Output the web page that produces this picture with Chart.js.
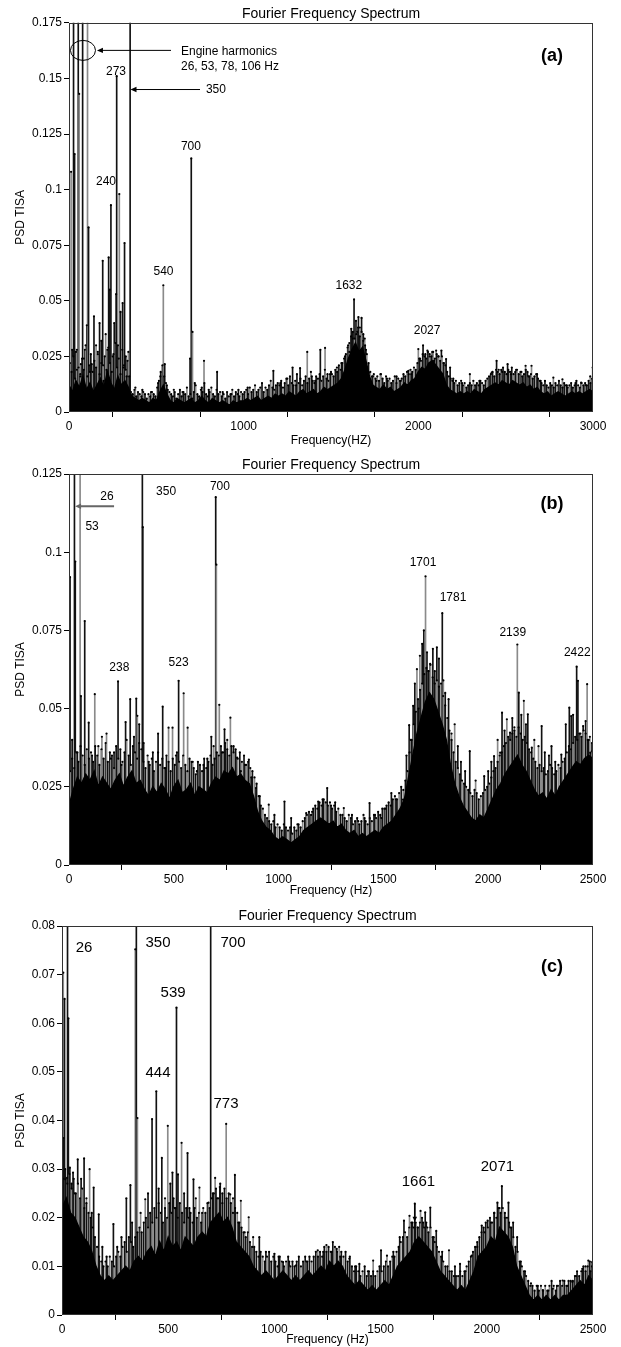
<!DOCTYPE html>
<html>
<head>
<meta charset="utf-8">
<script src="https://cdn.jsdelivr.net/npm/chart.js@4.4.1/dist/chart.umd.min.js"></script>
<style>
  html, body { margin: 0; padding: 0; background: #fff; }
  body { width: 621px; height: 1347px; position: relative; overflow: hidden; }
  canvas { position: absolute; left: 0; }
</style>
</head>
<body>
<canvas id="chartA" width="621" height="448" style="top:0px"></canvas>
<canvas id="chartB" width="621" height="448" style="top:450px"></canvas>
<canvas id="chartC" width="621" height="452" style="top:895px"></canvas>
<script>
// spectrum floor (solid black region), one value every 20 Hz from 0 Hz
const floorStep = 20;
// tops of the dense stems, one value every 10 Hz from 5 Hz
const fuzzStep = 10;
const fuzzStart = 5;

const floorA = [
  0.012, 0.009, 0.014, 0.011, 0.016, 0.010, 0.013, 0.009, 0.012, 0.015, 0.011, 0.018, 0.013, 0.010, 0.016, 0.012, 0.014, 0.011,
  0.007, 0.006, 0.005, 0.006, 0.005, 0.004, 0.006, 0.005,
  0.009, 0.012, 0.008,
  0.005, 0.004, 0.006, 0.005, 0.004, 0.005, 0.006, 0.004, 0.005, 0.007, 0.005, 0.004, 0.006, 0.005, 0.004, 0.005, 0.004, 0.003, 0.005, 0.004, 0.005,
  0.005, 0.006, 0.005, 0.006, 0.007, 0.005, 0.006, 0.007, 0.006, 0.008,
  0.007, 0.008, 0.007, 0.009, 0.008, 0.007, 0.009, 0.010, 0.008, 0.009, 0.010, 0.008, 0.009, 0.011, 0.010,
  0.011, 0.012, 0.013, 0.015,
  0.019, 0.024, 0.028, 0.031, 0.027, 0.029, 0.023, 0.016,
  0.012, 0.011, 0.010, 0.012, 0.010, 0.011, 0.009, 0.010,
  0.011, 0.013, 0.012, 0.014, 0.015,
  0.018, 0.020, 0.019, 0.022, 0.023, 0.021, 0.019, 0.017,
  0.012, 0.010, 0.009, 0.008, 0.009, 0.008, 0.009, 0.008, 0.010, 0.009, 0.008, 0.010,
  0.011, 0.012, 0.013, 0.012, 0.014, 0.013, 0.012, 0.014, 0.013, 0.012, 0.013, 0.011, 0.012, 0.010, 0.011,
  0.009, 0.008, 0.009, 0.007, 0.008, 0.009, 0.008, 0.007, 0.008, 0.009, 0.008, 0.009, 0.008, 0.009, 0.010,
  0.009
];

const fuzzA = [
  0.022, 0.018, 0.025, 0.015, 0.028, 0.020, 0.017, 0.024, 0.019, 0.030, 0.016, 0.021, 0.026, 0.018, 0.023, 0.020, 0.027, 0.017,
  0.032, 0.021, 0.025, 0.019, 0.029, 0.022, 0.018, 0.026, 0.031, 0.020, 0.024, 0.017, 0.028, 0.021, 0.019, 0.023, 0.016,
  0.009, 0.008, 0.010, 0.007, 0.009, 0.008, 0.007, 0.009, 0.008, 0.006, 0.008, 0.007, 0.009, 0.008, 0.007,
  0.011, 0.014, 0.018, 0.021, 0.016, 0.013, 0.010, 0.009,
  0.008, 0.007, 0.009, 0.006, 0.008, 0.010, 0.007, 0.009, 0.008, 0.011, 0.007, 0.008, 0.006, 0.009, 0.012, 0.008, 0.007, 0.010, 0.009, 0.013, 0.008,
  0.007, 0.009, 0.011, 0.008, 0.007, 0.010, 0.008, 0.009, 0.007, 0.008, 0.006, 0.009, 0.007, 0.008, 0.010, 0.007, 0.009, 0.008, 0.007, 0.009, 0.008,
  0.009, 0.010, 0.008, 0.011, 0.009, 0.010, 0.012, 0.009, 0.010, 0.011, 0.013, 0.009, 0.011, 0.010, 0.012, 0.014, 0.011, 0.010, 0.012, 0.013,
  0.012, 0.014, 0.011, 0.013, 0.015, 0.012, 0.016, 0.013, 0.012, 0.014, 0.017, 0.013, 0.015, 0.012, 0.014,
  0.016, 0.013, 0.015, 0.018, 0.014, 0.013, 0.016, 0.015, 0.017, 0.014, 0.016, 0.019, 0.015, 0.014, 0.017,
  0.017, 0.016, 0.019, 0.018, 0.021, 0.019, 0.022, 0.024,
  0.026, 0.029, 0.031, 0.034, 0.036, 0.033, 0.035, 0.038, 0.034, 0.036, 0.032, 0.030, 0.026, 0.022,
  0.018, 0.016, 0.017, 0.015, 0.016, 0.014, 0.017, 0.015, 0.013, 0.016, 0.014, 0.015, 0.013, 0.014, 0.016, 0.013, 0.015, 0.014,
  0.015, 0.017, 0.016, 0.018, 0.017, 0.019, 0.018, 0.020, 0.019, 0.022,
  0.024, 0.023, 0.026, 0.025, 0.024, 0.027, 0.026, 0.025, 0.027, 0.024, 0.026, 0.025, 0.023, 0.025, 0.022, 0.021,
  0.018, 0.016, 0.015, 0.014, 0.013, 0.014, 0.012, 0.013, 0.014, 0.012, 0.013, 0.011, 0.012, 0.013, 0.012, 0.014, 0.012, 0.013,
  0.012, 0.014, 0.013, 0.012, 0.014, 0.015,
  0.016, 0.017, 0.018, 0.016, 0.019, 0.018, 0.017, 0.019, 0.020, 0.018, 0.017, 0.019, 0.018, 0.020, 0.017,
  0.018, 0.019, 0.017, 0.018, 0.016, 0.017, 0.019, 0.018, 0.016, 0.017, 0.015, 0.016, 0.017, 0.015, 0.014,
  0.013, 0.012, 0.014, 0.012, 0.011, 0.013, 0.012, 0.011, 0.013, 0.012, 0.014, 0.012, 0.011, 0.013, 0.012,
  0.011, 0.012, 0.013, 0.011, 0.012, 0.014, 0.012, 0.011, 0.013, 0.012, 0.013, 0.012, 0.014, 0.013, 0.015
];

const floorB = [
  0.019, 0.024, 0.028, 0.026, 0.029,
  0.027, 0.030, 0.025, 0.028, 0.026, 0.024, 0.027, 0.029, 0.025, 0.028, 0.030, 0.026, 0.027,
  0.024, 0.022, 0.025, 0.023, 0.026, 0.024, 0.021, 0.025, 0.027, 0.023, 0.024, 0.026, 0.022, 0.025, 0.024, 0.023, 0.026,
  0.028, 0.027, 0.030, 0.029, 0.031, 0.028, 0.029, 0.027, 0.026, 0.022,
  0.017, 0.014, 0.012, 0.011,
  0.009, 0.008, 0.009, 0.008, 0.007, 0.008, 0.009,
  0.011, 0.012, 0.013, 0.014, 0.015, 0.014, 0.013, 0.014, 0.012, 0.013,
  0.011, 0.010, 0.011, 0.009, 0.010, 0.009, 0.010, 0.011, 0.010, 0.012,
  0.013, 0.014, 0.016, 0.018, 0.021,
  0.028, 0.035,
  0.042, 0.047, 0.052, 0.055, 0.053, 0.049, 0.045, 0.040,
  0.032, 0.026, 0.022, 0.019, 0.017,
  0.015, 0.014, 0.016, 0.015,
  0.018, 0.021, 0.024, 0.026,
  0.029, 0.031, 0.033, 0.035, 0.032, 0.030, 0.027,
  0.024, 0.022, 0.023, 0.021, 0.024, 0.022, 0.025,
  0.027, 0.029, 0.031, 0.033, 0.032, 0.034, 0.035,
  0.034
];

const fuzzB = [
  0.030, 0.034, 0.031, 0.036, 0.033, 0.038, 0.035, 0.032, 0.037, 0.034,
  0.036, 0.033, 0.038, 0.035, 0.032, 0.037, 0.034, 0.039, 0.033, 0.036, 0.035, 0.031, 0.038, 0.034, 0.037,
  0.033, 0.036, 0.040, 0.035, 0.032, 0.038, 0.036, 0.034, 0.039, 0.037,
  0.033, 0.031, 0.035, 0.032, 0.034, 0.030, 0.033, 0.036, 0.032, 0.034, 0.031, 0.035, 0.033, 0.030, 0.034, 0.032, 0.036, 0.033,
  0.031, 0.035, 0.032, 0.030, 0.034, 0.033, 0.031, 0.029, 0.033, 0.032, 0.030, 0.034, 0.031, 0.033, 0.035, 0.032, 0.034,
  0.036, 0.035, 0.038, 0.036, 0.039, 0.037, 0.035, 0.038, 0.036, 0.037, 0.034, 0.036, 0.033, 0.035, 0.032, 0.033, 0.031, 0.030, 0.028, 0.026,
  0.022, 0.019, 0.018, 0.016, 0.015, 0.014, 0.013, 0.014, 0.012, 0.013,
  0.012, 0.011, 0.013, 0.012, 0.011, 0.012, 0.010, 0.012, 0.011, 0.013, 0.012, 0.014,
  0.015, 0.016, 0.017, 0.016, 0.018, 0.019, 0.018, 0.020, 0.019, 0.021, 0.020, 0.019, 0.020, 0.018, 0.019, 0.017, 0.018, 0.016,
  0.016, 0.015, 0.014, 0.016, 0.015, 0.013, 0.014, 0.015, 0.013, 0.014, 0.016, 0.014, 0.013, 0.015, 0.014, 0.016, 0.015, 0.017, 0.016, 0.018,
  0.018, 0.019, 0.020, 0.019, 0.021, 0.022, 0.021, 0.023, 0.025, 0.024, 0.027, 0.030,
  0.036, 0.040, 0.045, 0.049,
  0.053, 0.056, 0.058, 0.061, 0.063, 0.062, 0.064, 0.060, 0.062, 0.059, 0.057, 0.058, 0.054, 0.051,
  0.047, 0.043, 0.040, 0.036, 0.033, 0.031, 0.029, 0.027, 0.026, 0.025,
  0.024, 0.023, 0.022, 0.024, 0.023, 0.021, 0.022, 0.023, 0.024, 0.025,
  0.026, 0.028, 0.030, 0.031, 0.033, 0.035, 0.036, 0.038,
  0.039, 0.041, 0.040, 0.042, 0.043, 0.041, 0.044, 0.042, 0.040, 0.041, 0.039, 0.037, 0.036, 0.034,
  0.033, 0.031, 0.032, 0.030, 0.031, 0.029, 0.030, 0.032, 0.031, 0.029, 0.030, 0.032, 0.031, 0.033,
  0.034, 0.036, 0.038, 0.037, 0.039, 0.041, 0.040, 0.042, 0.041, 0.043, 0.042, 0.040, 0.041, 0.039
];

const floorC = [
  0.022, 0.024, 0.021, 0.020,
  0.018, 0.016, 0.015, 0.013,
  0.010, 0.008, 0.007, 0.008, 0.007,
  0.008, 0.009, 0.010, 0.009, 0.011,
  0.012, 0.011, 0.013, 0.014, 0.012, 0.015, 0.013, 0.016, 0.014, 0.015, 0.013, 0.016, 0.015, 0.014, 0.016, 0.017, 0.016,
  0.019, 0.020, 0.021, 0.019, 0.020, 0.018,
  0.015, 0.014, 0.013, 0.012,
  0.010, 0.009, 0.008, 0.009, 0.008, 0.007, 0.008, 0.009, 0.008, 0.007, 0.008, 0.007, 0.008, 0.009, 0.008,
  0.009, 0.010, 0.009, 0.011, 0.010, 0.011, 0.010, 0.008,
  0.007, 0.006, 0.007, 0.006, 0.005, 0.006, 0.005, 0.006, 0.007, 0.006,
  0.008, 0.010, 0.011, 0.012, 0.013,
  0.015, 0.016, 0.015, 0.014, 0.013,
  0.011, 0.009, 0.008, 0.007, 0.006,
  0.005, 0.006, 0.005, 0.007, 0.009,
  0.012, 0.013, 0.014, 0.016, 0.015,
  0.018, 0.017, 0.016, 0.014,
  0.010, 0.008, 0.006, 0.004,
  0.003, 0.004, 0.003, 0.004, 0.003, 0.004, 0.003, 0.004, 0.004,
  0.005, 0.006, 0.007, 0.006, 0.008,
  0.007
];

const fuzzC = [
  0.028, 0.030, 0.027, 0.029, 0.026, 0.028, 0.025, 0.027,
  0.024, 0.026, 0.022, 0.023, 0.021, 0.020, 0.018, 0.016,
  0.014, 0.012, 0.011, 0.010, 0.011, 0.010, 0.012, 0.011, 0.010, 0.012,
  0.013, 0.012, 0.014, 0.015, 0.013, 0.016, 0.015, 0.014, 0.016, 0.017,
  0.018, 0.017, 0.019, 0.020, 0.018, 0.021, 0.019, 0.022, 0.020, 0.023, 0.021, 0.019, 0.022, 0.020, 0.023, 0.021, 0.024,
  0.022, 0.020, 0.023, 0.021, 0.019, 0.022, 0.020, 0.021, 0.019, 0.022, 0.020, 0.021, 0.019, 0.022, 0.021, 0.023, 0.022,
  0.024, 0.025, 0.026, 0.024, 0.027, 0.025, 0.026, 0.024, 0.025, 0.023, 0.024, 0.022,
  0.021, 0.019, 0.018, 0.017, 0.016, 0.017, 0.015, 0.014,
  0.014, 0.013, 0.012, 0.013, 0.012, 0.011, 0.012, 0.013, 0.011, 0.012, 0.011, 0.010, 0.012, 0.011, 0.010,
  0.011, 0.012, 0.010, 0.011, 0.010, 0.011, 0.012, 0.010, 0.011, 0.012, 0.011, 0.012, 0.011, 0.012, 0.013,
  0.012, 0.013, 0.012, 0.014, 0.013, 0.014, 0.013, 0.015, 0.014, 0.013, 0.014, 0.013, 0.012, 0.013, 0.011, 0.012,
  0.010, 0.009, 0.010, 0.009, 0.008, 0.009, 0.010, 0.008, 0.009, 0.008, 0.009, 0.008, 0.009, 0.010, 0.009, 0.010, 0.011, 0.010, 0.011, 0.012,
  0.012, 0.013, 0.014, 0.015, 0.016, 0.017, 0.016, 0.018, 0.019, 0.018,
  0.019, 0.018, 0.019, 0.020, 0.018, 0.019, 0.017, 0.018, 0.016, 0.015,
  0.014, 0.013, 0.012, 0.011, 0.010, 0.010, 0.009, 0.009, 0.008, 0.008,
  0.008, 0.009, 0.008, 0.009, 0.010, 0.011, 0.012, 0.013, 0.014, 0.015,
  0.016, 0.017, 0.018, 0.019, 0.018, 0.020, 0.019, 0.021, 0.020, 0.022,
  0.021, 0.022, 0.021, 0.020, 0.019, 0.018, 0.016, 0.014,
  0.013, 0.011, 0.010, 0.009, 0.008, 0.007, 0.006, 0.006,
  0.005, 0.006, 0.005, 0.006, 0.005, 0.006, 0.005, 0.006, 0.007, 0.006, 0.005, 0.006, 0.007, 0.006, 0.007, 0.006, 0.007, 0.007,
  0.007, 0.008, 0.009, 0.008, 0.009, 0.010, 0.009, 0.010, 0.011, 0.010
];

// individual spectral lines [Hz, PSD]
const peaksA = [
  [12, 0.108], [18, 0.028], [26, 0.25], [32, 0.116], [40, 0.027], [45, 0.019], [53, 0.25], [58, 0.143],
  [65, 0.016], [68, 0.0215], [78, 0.25], [85, 0.024], [91, 0.028], [102, 0.039], [106, 0.25], [112, 0.083],
  [120, 0.018], [130, 0.0215], [143, 0.043], [155, 0.030], [165, 0.026], [175, 0.040], [185, 0.022],
  [193, 0.068], [198, 0.014], [210, 0.035], [220, 0.028], [227, 0.0695], [234, 0.055], [240, 0.093],
  [250, 0.025], [259, 0.040], [270, 0.053], [273, 0.151], [280, 0.030], [288, 0.098], [295, 0.045],
  [307, 0.049], [312, 0.020], [318, 0.076], [325, 0.025], [330, 0.016], [340, 0.027], [350, 0.25],
  [380, 0.011], [420, 0.010], [470, 0.009], [510, 0.013], [523, 0.016], [540, 0.057], [548, 0.0215],
  [560, 0.012], [600, 0.010], [650, 0.009], [693, 0.024], [700, 0.114], [707, 0.036], [720, 0.013],
  [760, 0.011], [773, 0.023], [800, 0.010], [848, 0.018], [880, 0.009], [930, 0.008], [970, 0.010],
  [1023, 0.011], [1170, 0.0185], [1210, 0.013], [1250, 0.015], [1280, 0.020], [1300, 0.012], [1323, 0.0197],
  [1364, 0.027], [1390, 0.016], [1410, 0.014], [1439, 0.028], [1466, 0.0288], [1480, 0.017], [1500, 0.018],
  [1534, 0.020], [1560, 0.022], [1580, 0.025], [1598, 0.030], [1605, 0.027], [1616, 0.0374], [1625, 0.033],
  [1632, 0.0506], [1643, 0.041], [1650, 0.036], [1657, 0.0427], [1665, 0.038], [1675, 0.0423], [1685, 0.035],
  [1693, 0.033], [1700, 0.028], [1716, 0.0177], [1740, 0.016], [1760, 0.014], [1784, 0.017], [1820, 0.015],
  [1875, 0.016], [1900, 0.014], [1943, 0.0185], [1960, 0.017], [2000, 0.0283], [2010, 0.024], [2027, 0.030],
  [2040, 0.026], [2052, 0.0276], [2065, 0.025], [2080, 0.027], [2090, 0.023], [2102, 0.0276], [2115, 0.025],
  [2132, 0.0276], [2145, 0.022], [2159, 0.0238], [2182, 0.020], [2200, 0.015], [2250, 0.013], [2295, 0.017],
  [2350, 0.014], [2420, 0.0177], [2448, 0.023], [2460, 0.019], [2480, 0.018], [2511, 0.0215], [2530, 0.017],
  [2560, 0.019], [2590, 0.018], [2614, 0.0208], [2630, 0.016], [2648, 0.0208], [2680, 0.017], [2700, 0.014],
  [2773, 0.0155], [2825, 0.0147], [2850, 0.012], [2900, 0.013], [2932, 0.0132], [2960, 0.012], [2984, 0.016],
  [2998, 0.020]
];

const peaksB = [
  [5, 0.092], [15, 0.040], [26, 0.3], [30, 0.097], [40, 0.036], [53, 0.3], [57, 0.054], [75, 0.078],
  [94, 0.0455], [110, 0.035], [123, 0.0546], [140, 0.038], [157, 0.041], [179, 0.042], [200, 0.034],
  [215, 0.036], [234, 0.0587], [250, 0.032], [270, 0.0457], [292, 0.053], [310, 0.041], [321, 0.0532],
  [326, 0.0477], [335, 0.045], [350, 0.3], [352, 0.108], [356, 0.039], [380, 0.033], [400, 0.036],
  [425, 0.042], [447, 0.0506], [460, 0.031], [475, 0.0439], [494, 0.0439], [510, 0.035], [523, 0.0589],
  [547, 0.0549], [566, 0.0439], [590, 0.033], [610, 0.030], [642, 0.032], [660, 0.034], [679, 0.041],
  [690, 0.038], [700, 0.1176], [703, 0.096], [717, 0.0512], [730, 0.036], [742, 0.0434], [755, 0.040],
  [770, 0.0471], [785, 0.038], [802, 0.0343], [820, 0.030], [840, 0.032], [858, 0.0337], [870, 0.028],
  [892, 0.0246], [910, 0.022], [953, 0.0193], [980, 0.016], [1028, 0.0203], [1060, 0.015], [1090, 0.013],
  [1132, 0.0166], [1160, 0.017], [1189, 0.0203], [1210, 0.021], [1232, 0.0246], [1250, 0.019], [1270, 0.020],
  [1311, 0.0182], [1350, 0.016], [1380, 0.014], [1410, 0.015], [1434, 0.0198], [1460, 0.016], [1490, 0.015],
  [1510, 0.018], [1538, 0.023], [1560, 0.021], [1594, 0.0209], [1610, 0.035], [1623, 0.0447], [1630, 0.040],
  [1642, 0.0509], [1650, 0.058], [1660, 0.0626], [1668, 0.050], [1674, 0.0669], [1685, 0.0707], [1693, 0.075],
  [1701, 0.0923], [1708, 0.068], [1715, 0.062], [1723, 0.0643], [1736, 0.0691], [1745, 0.058], [1755, 0.0696],
  [1765, 0.066], [1781, 0.0805], [1786, 0.059], [1795, 0.055], [1811, 0.053], [1825, 0.042], [1840, 0.045],
  [1855, 0.038], [1870, 0.033], [1890, 0.030], [1912, 0.0364], [1940, 0.027], [1981, 0.0284], [2000, 0.030],
  [2015, 0.033], [2028, 0.0348], [2045, 0.040], [2057, 0.0359], [2066, 0.0487], [2078, 0.043], [2089, 0.0466],
  [2104, 0.0423], [2115, 0.047], [2125, 0.044], [2139, 0.0705], [2146, 0.0551], [2158, 0.048], [2170, 0.0525],
  [2180, 0.045], [2189, 0.0482], [2208, 0.0375], [2220, 0.040], [2240, 0.038], [2255, 0.0444], [2270, 0.036],
  [2290, 0.035], [2302, 0.038], [2320, 0.033], [2349, 0.0353], [2370, 0.045], [2387, 0.0503], [2396, 0.0476],
  [2405, 0.048], [2422, 0.0634], [2428, 0.0589], [2440, 0.042], [2453, 0.0444], [2465, 0.046], [2472, 0.0578],
  [2480, 0.040], [2487, 0.0359], [2496, 0.0364]
];

const peaksC = [
  [6, 0.0704], [8, 0.0364], [12, 0.065], [15, 0.0279], [24, 0.0282], [26, 0.3], [30, 0.061], [37, 0.0303],
  [45, 0.027], [52, 0.0293], [60, 0.025], [74, 0.032], [90, 0.028], [104, 0.0322], [115, 0.024], [130, 0.030],
  [140, 0.021], [149, 0.0262], [173, 0.0207], [190, 0.014], [210, 0.012], [242, 0.0187], [260, 0.014],
  [280, 0.016], [303, 0.024], [322, 0.0267], [330, 0.019], [345, 0.0752], [350, 0.3], [355, 0.0405],
  [370, 0.021], [392, 0.0238], [405, 0.025], [424, 0.0403], [444, 0.046], [455, 0.026], [470, 0.0323],
  [485, 0.024], [498, 0.0389], [510, 0.027], [520, 0.0293], [530, 0.022], [539, 0.0632], [546, 0.0289],
  [563, 0.0354], [575, 0.025], [591, 0.0333], [600, 0.022], [619, 0.0279], [630, 0.024], [647, 0.0262],
  [660, 0.021], [690, 0.0231], [700, 0.3], [710, 0.025], [721, 0.0282], [730, 0.024], [743, 0.0263],
  [755, 0.023], [773, 0.0393], [792, 0.0248], [805, 0.021], [814, 0.0288], [830, 0.019], [842, 0.0235],
  [860, 0.017], [879, 0.0201], [900, 0.016], [929, 0.016], [960, 0.013], [1000, 0.0126], [1020, 0.012],
  [1041, 0.0109], [1070, 0.011], [1102, 0.0102], [1150, 0.011], [1204, 0.0133], [1230, 0.013], [1245, 0.0144],
  [1270, 0.013], [1293, 0.0136], [1310, 0.012], [1353, 0.0116], [1380, 0.010], [1400, 0.0105], [1440, 0.009],
  [1465, 0.0112], [1502, 0.0133], [1530, 0.0122], [1560, 0.013], [1590, 0.016], [1610, 0.0194], [1636, 0.0204],
  [1650, 0.019], [1661, 0.0229], [1675, 0.018], [1688, 0.0214], [1700, 0.019], [1710, 0.0211], [1720, 0.018],
  [1734, 0.0221], [1750, 0.016], [1762, 0.0173], [1790, 0.013], [1822, 0.0133], [1850, 0.010], [1874, 0.0105],
  [1900, 0.009], [1929, 0.0122], [1955, 0.014], [1976, 0.0184], [1990, 0.017], [2004, 0.0194], [2020, 0.019],
  [2035, 0.021], [2050, 0.0231], [2060, 0.022], [2071, 0.0265], [2085, 0.020], [2102, 0.0231], [2110, 0.018],
  [2124, 0.019], [2143, 0.016], [2160, 0.011], [2180, 0.009], [2208, 0.0065], [2240, 0.006], [2264, 0.0051],
  [2290, 0.005], [2311, 0.0054], [2330, 0.006], [2357, 0.0071], [2380, 0.006], [2403, 0.0068], [2420, 0.008],
  [2450, 0.0095], [2465, 0.010], [2478, 0.0112], [2488, 0.009], [2496, 0.0109]
];

// axis ticks
const yTicksA = [0, 0.025, 0.05, 0.075, 0.1, 0.125, 0.15, 0.175];
const yTicksB = [0, 0.025, 0.05, 0.075, 0.1, 0.125];
const yTicksC = [0, 0.01, 0.02, 0.03, 0.04, 0.05, 0.06, 0.07, 0.08];
const xTicksA = [0, 500, 1000, 1500, 2000, 2500, 3000];
const xLabelsA = [0, 1000, 2000, 3000];
const xTicksBC = [0, 500, 1000, 1500, 2000, 2500];

const FONT = 'Arial, "Liberation Sans", sans-serif';
Chart.defaults.font.family = FONT;
Chart.defaults.color = '#000';

// frame, peak labels, arrows and panel tag
const notesPlugin = {
  id: 'notes',
  afterDraw(chart, args, o) {
    const { ctx, chartArea: a, scales: { x, y } } = chart;
    const px = v => x.getPixelForValue(v);
    const py = v => y.getPixelForValue(v);
    ctx.save();
    ctx.strokeStyle = '#333';
    ctx.lineWidth = 1;
    ctx.strokeRect(Math.round(a.left) + 0.5, Math.round(a.top) + 0.5,
      Math.round(a.right - a.left) - 1, Math.round(a.bottom - a.top) - 1);

    (o.arrows || []).forEach(ar => {
      const x1 = px(ar.from[0]), y1 = py(ar.from[1]);
      const x2 = px(ar.to[0]), y2 = py(ar.to[1]);
      const ang = Math.atan2(y2 - y1, x2 - x1);
      const h = ar.head || 6;
      ctx.strokeStyle = ar.color || '#000';
      ctx.fillStyle = ar.color || '#000';
      ctx.lineWidth = ar.width || 1;
      ctx.beginPath();
      ctx.moveTo(x1, y1);
      ctx.lineTo(x2 - Math.cos(ang) * h * 0.8, y2 - Math.sin(ang) * h * 0.8);
      ctx.stroke();
      ctx.beginPath();
      ctx.moveTo(x2, y2);
      ctx.lineTo(x2 - h * Math.cos(ang) + h * 0.45 * Math.sin(ang), y2 - h * Math.sin(ang) - h * 0.45 * Math.cos(ang));
      ctx.lineTo(x2 - h * Math.cos(ang) - h * 0.45 * Math.sin(ang), y2 - h * Math.sin(ang) + h * 0.45 * Math.cos(ang));
      ctx.closePath();
      ctx.fill();
    });

    if (o.ellipse) {
      ctx.strokeStyle = '#000';
      ctx.lineWidth = 1;
      ctx.beginPath();
      ctx.ellipse(px(o.ellipse.x), py(o.ellipse.y), o.ellipse.rx, o.ellipse.ry, 0, 0, Math.PI * 2);
      ctx.stroke();
    }

    ctx.fillStyle = '#000';
    ctx.textBaseline = 'middle';
    (o.texts || []).forEach(t => {
      ctx.font = (t.bold ? 'bold ' : '') + (t.size || 12) + 'px ' + FONT;
      ctx.textAlign = t.align || 'center';
      ctx.fillText(t.text, px(t.x), py(t.y));
    });
    ctx.restore();
  }
};

function makeSpectrum(id, p) {
  const fuzzPts = p.fuzz.map((v, i) => ({ x: fuzzStart + i * fuzzStep, y: v }));
  const stems = p.peaks.map(([hz, v]) => ({ x: hz, y: v }))
    .concat(fuzzPts)
    .sort((m, n) => m.x - n.x);
  const floorPts = p.floor.map((v, i) => ({ x: i * floorStep, y: v }));
  return new Chart(document.getElementById(id), {
    type: 'bar',
    data: {
      datasets: [
        { type: 'scatter', data: stems, pointRadius: 1.1, pointBackgroundColor: '#000', pointBorderWidth: 0 },
        { type: 'line', data: floorPts, borderColor: '#000', borderWidth: 1.5, backgroundColor: '#000',
          fill: 'origin', pointRadius: 0, tension: 0 },
        { type: 'bar', data: stems, barThickness: 1, borderWidth: 0, grouped: false,
          backgroundColor: stems.map((s, i) => (i % 3 === 1 ? '#8a8a8a' : '#111')) }
      ]
    },
    options: {
      responsive: false,
      animation: false,
      devicePixelRatio: 1,
      layout: { padding: { left: 9, right: 28, top: p.padTop, bottom: 0 } },
      plugins: {
        legend: { display: false },
        tooltip: { enabled: false },
        title: { display: true, text: 'Fourier Frequency Spectrum', fullSize: false, color: '#000',
          font: { size: 14, weight: 'normal' }, padding: { top: p.titleTop, bottom: p.titleBottom } },
        notes: p.notes
      },
      scales: {
        x: {
          type: 'linear', min: 0, max: p.xMax, offset: false,
          afterBuildTicks: s => { s.ticks = p.xTicks.map(v => ({ value: v })); },
          afterFit: s => { s.height = p.xAxisH; },
          ticks: { autoSkip: false, maxRotation: 0, padding: 2, font: { size: 12 },
            callback: v => (p.xLabels.includes(v) ? String(v) : '') },
          grid: { drawOnChartArea: false, tickLength: 5, color: '#000' },
          border: { display: false },
          title: { display: true, text: p.xTitle, font: { size: 12 }, padding: { top: 0, bottom: 0 } }
        },
        y: {
          min: 0, max: p.yMax,
          afterBuildTicks: s => { s.ticks = p.yTicks.map(v => ({ value: v })); },
          afterFit: s => { s.width = p.yAxisW; },
          ticks: { padding: 2, font: { size: 12 }, callback: v => String(v) },
          grid: { drawOnChartArea: false, tickLength: 5, color: '#000' },
          border: { display: false },
          title: { display: true, text: 'PSD TISA', font: { size: 12 }, padding: { top: 4, bottom: 0 } }
        }
      }
    },
    plugins: [notesPlugin]
  });
}

makeSpectrum('chartA', {
  floor: floorA, fuzz: fuzzA, peaks: peaksA, yTicks: yTicksA, xTicks: xTicksA, xLabels: xLabelsA,
  xMax: 3000, yMax: 0.175, xTitle: 'Frequency(HZ)',
  padTop: 0, titleTop: 6, titleBottom: 0, xAxisH: 36, yAxisW: 60,
  notes: {
    ellipse: { x: 80, y: 0.1626, rx: 12.5, ry: 10 },
    arrows: [
      { from: [584, 0.1626], to: [160, 0.1626] },
      { from: [750, 0.145], to: [352, 0.145] }
    ],
    texts: [
      { text: 'Engine harmonics', x: 641, y: 0.1622, align: 'left' },
      { text: '26, 53, 78, 106 Hz', x: 641, y: 0.1554, align: 'left' },
      { text: '350', x: 784, y: 0.145, align: 'left' },
      { text: '273', x: 269, y: 0.1532 },
      { text: '240', x: 212, y: 0.1036 },
      { text: '700', x: 698, y: 0.1194 },
      { text: '540', x: 541, y: 0.0631 },
      { text: '1632', x: 1602, y: 0.0568 },
      { text: '2027', x: 2050, y: 0.0365 },
      { text: '(a)', x: 2765, y: 0.16, size: 18, bold: true }
    ]
  }
});

makeSpectrum('chartB', {
  floor: floorB, fuzz: fuzzB, peaks: peaksB, yTicks: yTicksB, xTicks: xTicksBC, xLabels: xTicksBC,
  xMax: 2500, yMax: 0.125, xTitle: 'Frequency (Hz)',
  padTop: 1.2, titleTop: 6, titleBottom: 0, xAxisH: 33, yAxisW: 60,
  notes: {
    arrows: [
      { from: [215, 0.1147], to: [29, 0.1147], color: '#666', width: 2 }
    ],
    texts: [
      { text: '26', x: 181, y: 0.1176 },
      { text: '53', x: 110, y: 0.108 },
      { text: '350', x: 463, y: 0.1192 },
      { text: '700', x: 720, y: 0.1208 },
      { text: '238', x: 240, y: 0.0631 },
      { text: '523', x: 523, y: 0.0647 },
      { text: '1701', x: 1689, y: 0.0968 },
      { text: '1781', x: 1832, y: 0.0856 },
      { text: '2139', x: 2117, y: 0.0744 },
      { text: '2422', x: 2425, y: 0.068 },
      { text: '(b)', x: 2304, y: 0.1154, size: 18, bold: true }
    ]
  }
});

makeSpectrum('chartC', {
  floor: floorC, fuzz: fuzzC, peaks: peaksC, yTicks: yTicksC, xTicks: xTicksBC, xLabels: xTicksBC,
  xMax: 2500, yMax: 0.08, xTitle: 'Frequency (Hz)',
  padTop: 8.2, titleTop: 5, titleBottom: 1, xAxisH: 32, yAxisW: 53,
  notes: {
    arrows: [
      { from: [1661, 0.0229], to: [1661, 0.0192], head: 5 }
    ],
    texts: [
      { text: '26', x: 104, y: 0.0756, size: 15 },
      { text: '350', x: 452, y: 0.0766, size: 15 },
      { text: '700', x: 805, y: 0.0766, size: 15 },
      { text: '539', x: 523, y: 0.0663, size: 15 },
      { text: '444', x: 452, y: 0.0499, size: 15 },
      { text: '773', x: 772, y: 0.0435, size: 15 },
      { text: '1661', x: 1678, y: 0.0273, size: 15 },
      { text: '2071', x: 2050, y: 0.0304, size: 15 },
      { text: '(c)', x: 2307, y: 0.0715, size: 18, bold: true }
    ]
  }
});
</script>
</body>
</html>
